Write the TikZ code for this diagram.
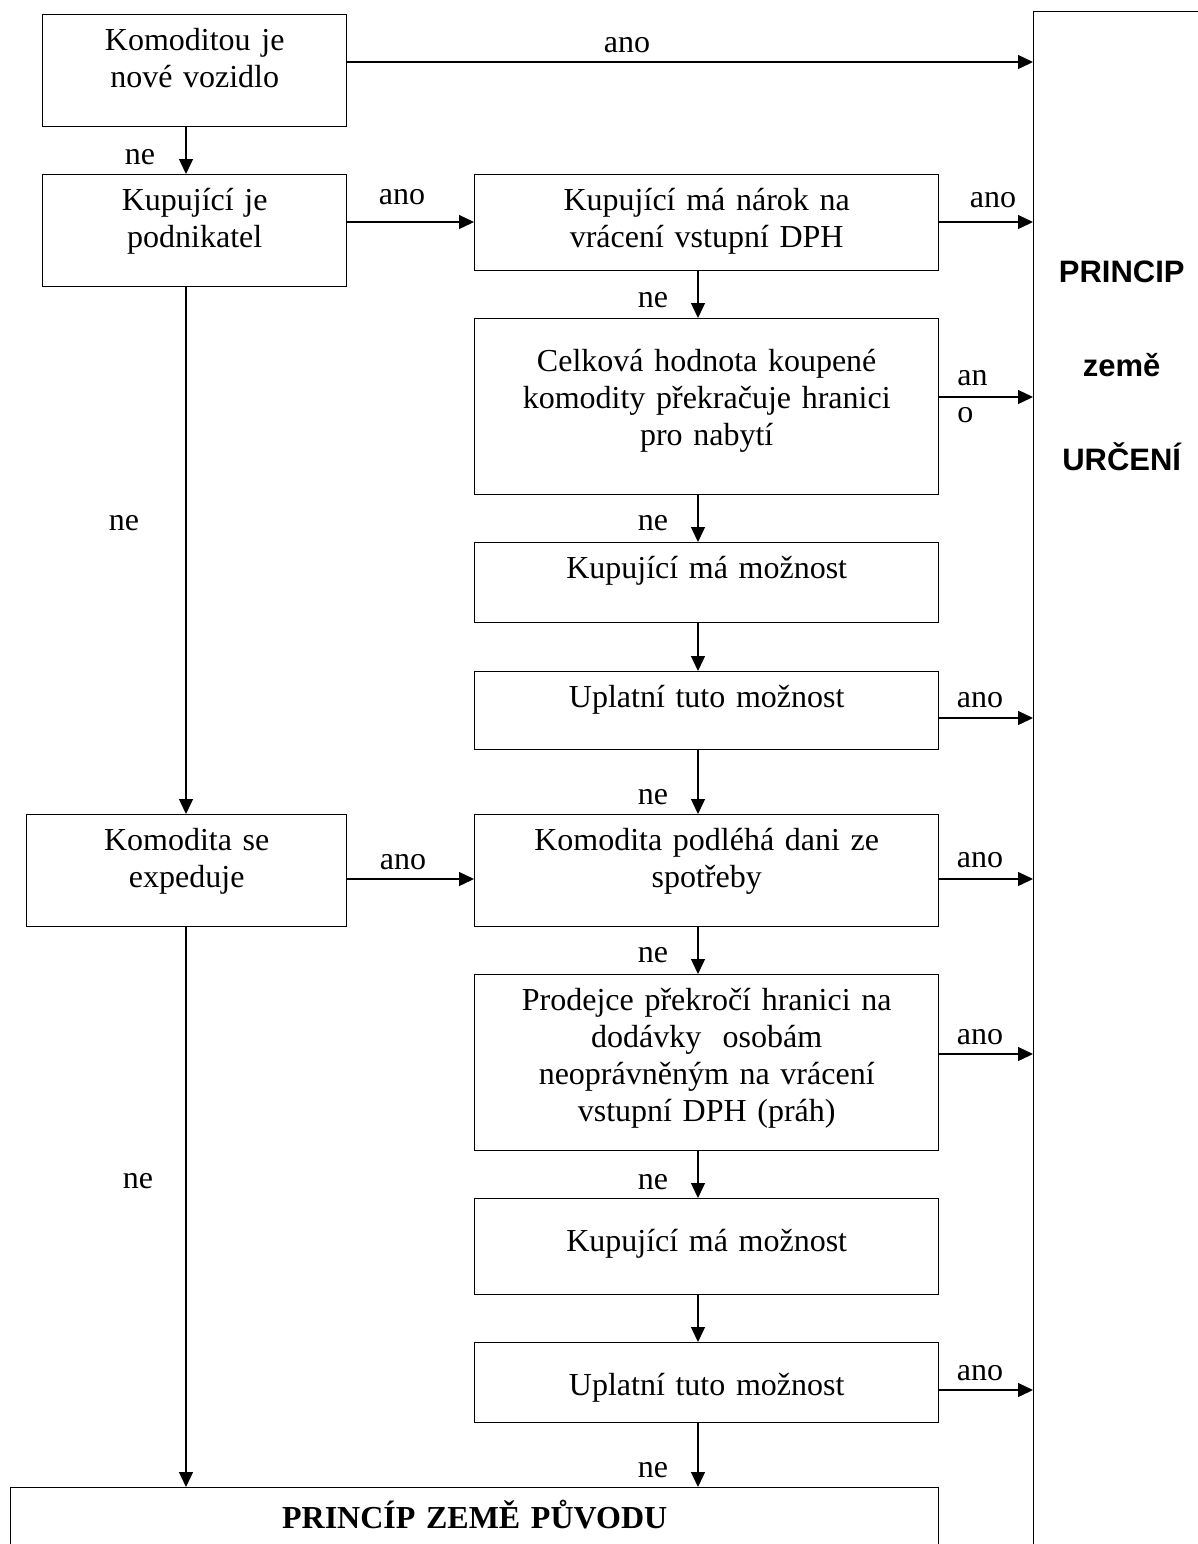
\documentclass[tikz,border=0pt]{standalone}
\usepackage{fontspec}
\setmainfont{Liberation Serif}
\newfontfamily\urcfont{Liberation Sans}
\usetikzlibrary{arrows.meta}

\tikzset{
  box/.style={draw, line width=0.7pt, anchor=north west, align=center, inner sep=0pt,
    text height=18pt, font=\fontsize{16}{18.5}\selectfont},
  arr/.style={line width=0.65pt, -{Triangle[length=7.5pt,width=7pt]}},
  lbl/.style={inner sep=0pt, font=\fontsize{16}{18.5}\selectfont},
}

\begin{document}
\begin{tikzpicture}[x=0.5pt, y=-0.5pt]
    \useasboundingbox (0,0) rectangle (1198,1544);
    \clip (0,0) rectangle (1198,1544);
    \coordinate (left) at (186,0);
    \coordinate (mid) at (698,0);

    % boxes
    \node[box, text width=152pt, text depth=38pt] (komod) at (42,14) {Komoditou je\\nové vozidlo};
    \node[box, text width=152pt, text depth=38pt] (podnik) at (42,174) {Kupující je\\podnikatel};
    \node[box, text width=160pt, text depth=38pt] (exped) at (26,814) {Komodita se\\expeduje};
    \node[box, text width=232pt, text depth=30pt] (narok) at (474,174) {Kupující má nárok na\\vrácení vstupní DPH};
    \node[box, text width=232pt, text height=26.5pt, text depth=61.5pt] (hodnota) at (474,318)
        {Celková hodnota koupené\\komodity překračuje hranici\\pro nabytí};
    \node[box, text width=232pt, text depth=22pt] (moznost1) at (474,542) {Kupující má možnost};
    \node[box, text width=232pt, text depth=21pt] (uplat1) at (474,671) {Uplatní tuto možnost};
    \node[box, text width=232pt, text depth=38pt] (spotreba) at (474,814) {Komodita podléhá dani ze\\spotřeby};
    \node[box, text width=232pt, text depth=70pt] (prah) at (474,974)
        {Prodejce překročí hranici na\\dodávky\ \ osobám\\neoprávněným na vrácení\\vstupní DPH (práh)};
    \node[box, text width=232pt, text height=26.5pt, text depth=21.5pt] (moznost2) at (474,1198) {Kupující má možnost};
    \node[box, text width=232pt, text height=26.5pt, text depth=13.5pt] (uplat2) at (474,1342) {Uplatní tuto možnost};
    \node[box, text width=464pt, text height=20.5pt, text depth=80pt,
        font=\bfseries\fontsize{16}{18.5}\selectfont] (puvod) at (10,1487) {PRINCÍP ZEMĚ PŮVODU};
    \node[box, text width=88pt, text height=135.5pt, text depth=700pt,
        font=\urcfont\bfseries\fontsize{15.5}{47}\selectfont] (urceni) at (1033,11) {PRINCIP\\země\\URČENÍ};

    % connectors
    \draw[arr] (komod.east |- 0,62) -- (urceni.west |- 0,62);
    \draw[arr] (komod.south -| left) -- (podnik.north -| left);
    \draw[arr] (podnik.east |- 0,222) -- (narok.west |- 0,222);
    \draw[arr] (narok.east |- 0,222) -- (urceni.west |- 0,222);
    \draw[arr] (narok.south -| mid) -- (hodnota.north -| mid);
    \draw[arr] (hodnota.east |- 0,397) -- (urceni.west |- 0,397);
    \draw[arr] (hodnota.south -| mid) -- (moznost1.north -| mid);
    \draw[arr] (moznost1.south -| mid) -- (uplat1.north -| mid);
    \draw[arr] (uplat1.east |- 0,718) -- (urceni.west |- 0,718);
    \draw[arr] (uplat1.south -| mid) -- (spotreba.north -| mid);
    \draw[arr] (podnik.south -| left) -- (exped.north -| left);
    \draw[arr] (exped.east |- 0,879) -- (spotreba.west |- 0,879);
    \draw[arr] (spotreba.east |- 0,879) -- (urceni.west |- 0,879);
    \draw[arr] (spotreba.south -| mid) -- (prah.north -| mid);
    \draw[arr] (prah.east |- 0,1054) -- (urceni.west |- 0,1054);
    \draw[arr] (prah.south -| mid) -- (moznost2.north -| mid);
    \draw[arr] (moznost2.south -| mid) -- (uplat2.north -| mid);
    \draw[arr] (uplat2.east |- 0,1390) -- (urceni.west |- 0,1390);
    \draw[arr] (uplat2.south -| mid) -- (puvod.north -| mid);
    \draw[arr] (exped.south -| left) -- (puvod.north -| left);

    % labels
    \node[lbl] (ano1) at (627,45) {ano};
    \node[lbl] (ano2) at (402,197) {ano};
    \node[lbl] (ano3) at (993,200) {ano};
    \node[lbl, anchor=west, align=left] (ano4) at (957,397) {an\\o};
    \node[lbl] (ano5) at (980,700) {ano};
    \node[lbl] (ano6) at (403,862) {ano};
    \node[lbl] (ano7) at (980,860) {ano};
    \node[lbl] (ano8) at (980,1037) {ano};
    \node[lbl] (ano9) at (980,1373) {ano};
    \node[lbl] (ne1) at (140,157) {ne};
    \node[lbl] (ne2) at (124,523) {ne};
    \node[lbl] (ne3) at (138,1181) {ne};
    \node[lbl] (ne4) at (653,300) {ne};
    \node[lbl] (ne5) at (653,523) {ne};
    \node[lbl] (ne6) at (653,797) {ne};
    \node[lbl] (ne7) at (653,955) {ne};
    \node[lbl] (ne8) at (653,1182) {ne};
    \node[lbl] (ne9) at (653,1470) {ne};
\end{tikzpicture}
\end{document}
